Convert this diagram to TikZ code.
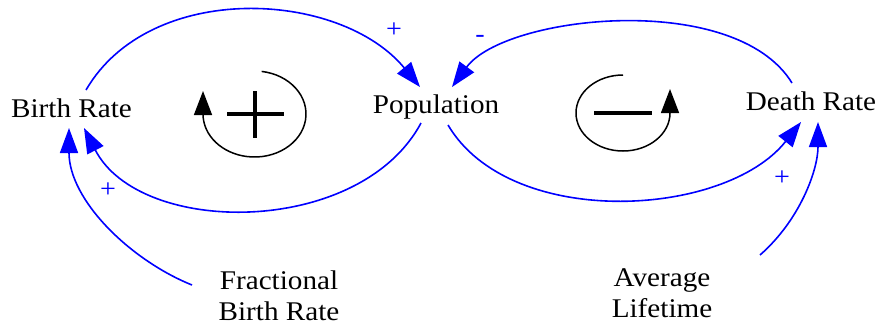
\documentclass[tikz,border=0pt]{standalone}
\usepackage{fontspec}
\setmainfont{Liberation Serif}[FakeStretch=1.08]
\usetikzlibrary{arrows.meta}
\begin{document}
\begin{tikzpicture}[x=1pt,y=-1pt,
  lbl/.style={font=\fontsize{27}{31}\selectfont, inner sep=0pt, align=center},
  pol/.style={font=\fontsize{26}{30}\selectfont, text=blue, inner sep=0pt},
  link/.style={draw=blue, line width=1.6pt, -{Triangle[length=25pt,width=18pt]}},
  loopline/.style={draw=black, line width=1.5pt, -{Triangle[length=24pt,width=18pt]}},
  sign/.style={draw=black, line width=3.2pt}]
\useasboundingbox (0,0) rectangle (882,325);
% variables
\node[lbl, anchor=base] (br) at (71.5,117) {Birth Rate};
\node[lbl, anchor=base] (pop) at (436,113) {Population};
\node[lbl, anchor=base] (dr) at (811,110) {Death Rate};
\node[lbl] (fbr) at (279,296) {Fractional\\Birth Rate};
\node[lbl] (al) at (662,293) {Average\\Lifetime};
% connector end points
\coordinate (brTop) at (86,90);
\coordinate (popInL) at (420,87);
\coordinate (popOutL) at (421,123);
\coordinate (brInR) at (84,128);
\coordinate (drTop) at (792,83);
\coordinate (popInR) at (452,87);
\coordinate (popOutR) at (448,125);
\coordinate (drInL) at (801,122);
\coordinate (fbrOut) at (192,285);
\coordinate (brInB) at (69,128);
\coordinate (alOut) at (760,255);
\coordinate (drInB) at (818,122);
% links
\draw[link] (brTop) .. controls (150,-20) and (340,-10) .. (popInL);
\draw[link] (popOutL) .. controls (360,237) and (140,237) .. (brInR);
\draw[link] (drTop) .. controls (735,-10) and (505,15) .. (popInR);
\draw[link] (popOutR) .. controls (510,230) and (725,218) .. (drInL);
\draw[link] (fbrOut) .. controls (130,260) and (69,200) .. (brInB);
\draw[link] (alOut) .. controls (800,220) and (818,170) .. (drInB);
% polarities
\node[pol] (p1) at (394,30) {+};
\node[pol] (p2) at (108,190) {+};
\node[pol] (p3) at (480,39) {-};
\node[pol] (p4) at (782,178) {+};
% loop R
\coordinate (cR) at (254.5,114);
\draw[loopline] (cR) ++(-82:51.5 and 43) arc[start angle=-82, end angle=180, x radius=51.5, y radius=43] -- (203,91);
\draw[sign] (227,114) -- (284,114);
\draw[sign] (255,91) -- (255,138);
% loop B
\coordinate (cB) at (623,113);
\draw[loopline] (cB) ++(-90:47 and 38) arc[start angle=-90, end angle=-360, x radius=47, y radius=38] -- (670,89);
\draw[sign] (594,113) -- (652,113);
\end{tikzpicture}
\end{document}
